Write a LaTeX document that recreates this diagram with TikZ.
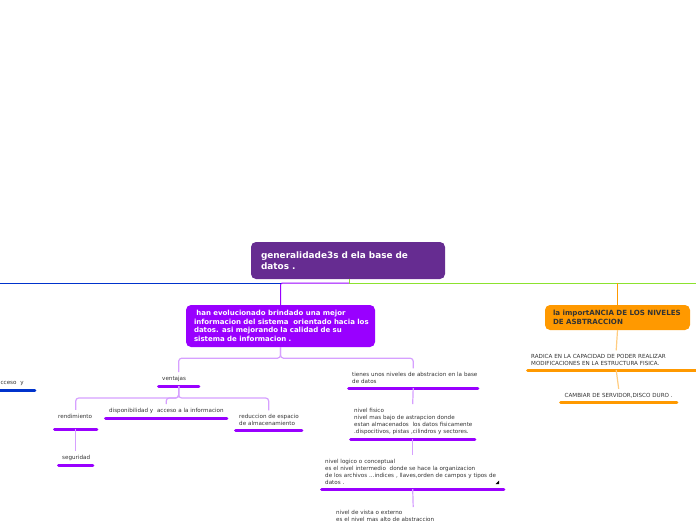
\documentclass[tikz,border=0pt]{standalone}
\usepackage{fontspec}
\setmainfont{DejaVu Sans}
\definecolor{mainpurple}{RGB}{102,44,145}
\definecolor{vpurple}{RGB}{153,0,255}
\definecolor{lpurple}{RGB}{214,160,255}
\definecolor{orangeA}{RGB}{255,153,0}
\definecolor{lorange}{RGB}{255,204,128}
\definecolor{greenA}{RGB}{140,226,46}
\definecolor{blueA}{RGB}{0,51,204}
\definecolor{txt}{RGB}{51,51,51}
\newcommand{\Lw}[1]{\mbox{#1}}
\tikzset{
  bignode/.style={rounded corners=5pt, inner ysep=0pt, align=left, text=white},
  leaf/.style={inner xsep=5pt, inner ysep=4pt, align=left, text=txt,
    font=\fontsize{5.6}{7}\selectfont, anchor=south west},
  pul/.style={line width=3pt, draw=vpurple, line cap=round, shorten <=1.5pt, shorten >=1.5pt},
  oul/.style={line width=3pt, draw=orangeA, line cap=round, shorten <=1.5pt, shorten >=1.5pt},
  bul/.style={line width=3pt, draw=blueA, line cap=round, shorten <=1.5pt, shorten >=1.5pt},
  pconn/.style={draw=lpurple, line width=1.2pt, rounded corners=3pt},
  oconn/.style={draw=lorange, line width=1.2pt, rounded corners=3pt},
}
\begin{document}
\begin{tikzpicture}[x=1pt,y=-1pt]
\useasboundingbox (0,0) rectangle (696,520);
\clip (0,0) rectangle (696,520);
% main topic
\node[bignode, fill=mainpurple, minimum width=194pt, minimum height=37pt, text width=174pt,
  inner xsep=10pt, font=\bfseries\fontsize{8.9}{11}\selectfont] (main) at (348,260.5)
  {\Lw{generalidade3s d ela base de}\\\Lw{datos .}};
% second level
\node[bignode, fill=vpurple, minimum width=189pt, minimum height=42pt, text width=173pt,
  inner xsep=8pt, font=\bfseries\fontsize{7}{8.7}\selectfont] (evo) at (280.5,326)
  {\Lw{ han evolucionado brindado una mejor}\\\Lw{informacion del sistema\ \ orientado hacia los}\\\Lw{datos. asi mejorando la calidad de su}\\\Lw{sistema de informacion .}};
\node[bignode, fill=orangeA, minimum width=145pt, minimum height=25pt, text width=129pt,
  inner xsep=8pt, text=txt, font=\bfseries\fontsize{7.1}{9}\selectfont] (imp) at (617.5,317.5)
  {\Lw{la importANCIA DE LOS NIVELES}\\\Lw{DE ASBTRACCION}};
% hub connectors
\coordinate (hub) at (349,283);
\coordinate (rightend) at (700,283);
\coordinate (leftend) at (-4,283);
\draw[greenA, line width=1pt] (main.south -| hub) -- (hub) -- (rightend);
\draw[vpurple, line width=1pt, rounded corners=2pt] (hub) -- (hub -| evo.north) -- (evo.north);
\draw[blueA, line width=1pt] (hub -| evo.north) -- (leftend);
\draw[orangeA, line width=1pt, rounded corners=2pt] (hub -| imp.north) -- (imp.north);
% leaves
\node[leaf, text width=33pt] (vent) at (157,386) {\Lw{ventajas}};
\node[leaf, text width=35pt, text depth=6.5pt] (rend) at (53,429) {\Lw{rendimiento}};
\node[leaf, text width=27pt] (seg) at (57,465) {\Lw{seguridad}};
\node[leaf, text width=114pt] (disp) at (104,418) {\Lw{disponibilidad y\ \ acceso a la informacion}};
\node[leaf, text width=59pt] (red) at (234,430) {\Lw{reduccion de espacio}\\\Lw{de almacenamiento}};
\node[leaf, text width=122pt] (tien) at (347,388) {\Lw{tienes unos niveles de abstracion en la base}\\\Lw{de datos}};
\node[leaf, text width=117pt] (fis) at (349,439) {\Lw{nivel fisico}\\\Lw{nivel mas bajo de astrapcion donde}\\\Lw{estan almacenados\ \ los datos fisicamente}\\\Lw{.dispocitivos, pistas ,cilindros y sectores.}};
\node[leaf, text width=175pt] (log) at (320,489) {\Lw{nivel logico o conceptual}\\\Lw{es el nivel intermedio\ \ donde se hace la organizacion}\\\Lw{de los archivos ...indices , llaves,orden de campos y tipos de}\\\Lw{datos .}};
\node[leaf, text width=154pt, anchor=north west, inner ysep=3pt] (vis) at (331,507) {\Lw{nivel de vista o externo}\\\Lw{es el nivel mas alto de abstraccion}};
\node[leaf, text width=170pt] (rad) at (526,370) {\Lw{RADICA EN LA CAPACIDAD DE PODER REALIZAR}\\\Lw{MODIFICACIONES EN LA ESTRUCTURA FISICA.}};
\node[leaf, text width=109pt, align=center] (cam) at (559,402) {\Lw{CAMBIAR DE SERVIDOR,DISCO DURO .}};
\node[leaf, text width=34pt] (acc) at (-8,390) {\Lw{acceso\ \ y}};
% underlines
\foreach \n in {vent,rend,seg,disp,red,tien,fis,log}
  \draw[pul] (\n.south west) -- (\n.south east);
\draw[oul] (rad.south west) -- (rad.south east);
\draw[oul] (cam.south west) -- (cam.south east);
\draw[bul] (acc.south west) -- (acc.south east);
% note icon
\fill[black] (495.5,484) -- (499,484) -- (499,480.5) -- cycle;
% connectors
\draw[pconn] (evo.south) -- ++(0,11) -| (vent.north);
\draw[pconn] (evo.south) -- ++(0,11) -| (tien.north);
\draw[pconn] (vent.south) -- ++(0,12) -| (rend.north);
\draw[pconn] (vent.south) -- ++(0,12) -| (disp.north);
\draw[pconn] (vent.south) -- ++(0,12) -| (red.north);
\draw[pconn] (rend.south) -- (seg.north);
\draw[pconn] (tien.south) -- (fis.north);
\draw[pconn] (fis.south) -- (log.north);
\draw[pconn] (log.south) -- (vis.north);
\draw[oconn] (imp.south) -- (rad.north);
\draw[oconn] (rad.south) -- (cam.north);
\end{tikzpicture}
\end{document}
